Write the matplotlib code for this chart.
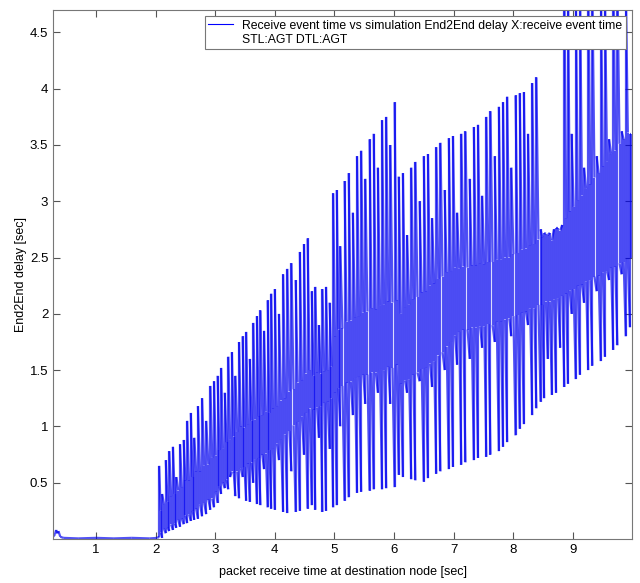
import matplotlib
matplotlib.use("Agg")
import matplotlib.pyplot as plt
from matplotlib.lines import Line2D
from matplotlib.collections import LineCollection

# flat part before traffic starts
idle_x = [0.28, 0.31, 0.33, 0.35, 0.37, 0.40, 0.45, 0.70, 1.00, 1.30, 1.60, 1.90, 2.03]
idle_y = [0.02, 0.04, 0.08, 0.05, 0.07, 0.02, 0.01, 0.005, 0.01, 0.005, 0.01, 0.005, 0.01]

# each spike: x, peak, trough; then a short burst inside the dense band at band_x
spike_x = [2.06, 2.11, 2.17, 2.23, 2.29, 2.35, 2.41, 2.47, 2.53, 2.59, 2.65, 2.71, 2.78, 2.85, 2.92,
           2.98, 3.04, 3.10, 3.16, 3.22, 3.28, 3.34, 3.40, 3.46, 3.52, 3.58, 3.64, 3.70, 3.76, 3.82,
           3.88, 3.94, 4.00, 4.07, 4.14, 4.21, 4.28, 4.35, 4.42, 4.49, 4.55,
           4.62, 4.68, 4.74, 4.80, 4.86, 4.92, 4.98, 5.04, 5.10, 5.17, 5.24, 5.31, 5.38, 5.45, 5.52,
           5.59, 5.66, 5.73, 5.80, 5.87, 5.94, 6.01,
           6.08, 6.15, 6.22, 6.29, 6.36, 6.43, 6.50, 6.57, 6.64, 6.71, 6.78, 6.85, 6.92, 6.99, 7.06,
           7.13, 7.20, 7.27, 7.34, 7.41, 7.48, 7.55, 7.62, 7.69, 7.76, 7.83, 7.90, 7.97, 8.04, 8.11,
           8.18, 8.25, 8.32, 8.39,
           8.46, 8.52, 8.58, 8.65, 8.72, 8.79,
           8.86, 8.92, 8.98, 9.05, 9.12, 9.19, 9.26, 9.33, 9.40, 9.47, 9.54, 9.61, 9.68, 9.75, 9.82,
           9.89, 9.96]
band_x = [2.085, 2.14, 2.20, 2.26, 2.32, 2.38, 2.44, 2.50, 2.56, 2.62, 2.68, 2.745, 2.815, 2.885, 2.95,
          3.01, 3.07, 3.13, 3.19, 3.25, 3.31, 3.37, 3.43, 3.49, 3.55, 3.61, 3.67, 3.73, 3.79, 3.85,
          3.91, 3.97, 4.035, 4.105, 4.175, 4.245, 4.315, 4.385, 4.455, 4.52, 4.585,
          4.65, 4.71, 4.77, 4.83, 4.89, 4.95, 5.01, 5.07, 5.135, 5.205, 5.275, 5.345, 5.415, 5.485, 5.555,
          5.625, 5.695, 5.765, 5.835, 5.905, 5.975, 6.045,
          6.115, 6.185, 6.255, 6.325, 6.395, 6.465, 6.535, 6.605, 6.675, 6.745, 6.815, 6.885, 6.955, 7.025, 7.095,
          7.165, 7.235, 7.305, 7.375, 7.445, 7.515, 7.585, 7.655, 7.725, 7.795, 7.865, 7.935, 8.005, 8.075, 8.145,
          8.215, 8.285, 8.355, 8.425,
          8.49, 8.55, 8.615, 8.685, 8.755, 8.825,
          8.89, 8.95, 9.015, 9.085, 9.155, 9.225, 9.295, 9.365, 9.435, 9.505, 9.575, 9.645, 9.715, 9.785, 9.855,
          9.925, 9.985]
spike_top = [0.65, 0.40, 0.70, 0.78, 0.82, 0.55, 0.84, 0.88, 1.05, 1.12, 0.90, 1.18, 1.25, 1.05, 1.36,
             1.40, 1.45, 1.52, 1.30, 1.62, 1.66, 1.45, 1.75, 1.80, 1.84, 1.60, 1.92, 1.98, 2.03, 1.85,
             2.12, 2.18, 2.22, 2.00, 2.35, 2.40, 2.45, 2.30, 2.55, 2.62, 2.67,
             2.20, 2.24, 1.90, 2.22, 2.24, 2.10, 3.07, 3.10, 2.60, 3.18, 3.25, 2.90, 3.40, 3.45, 3.20,
             3.55, 3.60, 3.30, 3.72, 3.75, 3.50, 3.88,
             3.22, 3.25, 2.70, 3.30, 3.35, 3.00, 3.40, 3.42, 2.85, 3.48, 3.52, 3.10, 3.56, 3.58, 2.90,
             3.60, 3.62, 3.20, 3.66, 3.68, 3.05, 3.75, 3.80, 3.40, 3.84, 3.88, 3.93, 3.30, 3.94, 3.96,
             3.97, 3.60, 4.05, 4.10,
             2.75, 2.72, 2.70, 2.65, 2.76, 2.74,
             4.90, 5.00, 3.60, 4.95, 5.10, 3.30, 5.00, 4.90, 3.40, 5.05, 4.90, 3.55, 5.10, 5.00, 3.62,
             4.95, 3.60]
spike_bot = [0.02, 0.01, 0.05, 0.07, 0.08, 0.10, 0.11, 0.13, 0.14, 0.16, 0.17, 0.18, 0.20, 0.22, 0.26,
             0.28, 0.32, 0.40, 0.45, 0.44, 0.60, 0.38, 0.36, 0.55, 0.34, 0.33, 0.50, 0.31, 0.30, 0.62,
             0.28, 0.27, 0.26, 0.70, 0.24, 0.23, 0.60, 0.24, 0.25, 0.75, 0.27,
             0.30, 0.26, 0.90, 0.24, 0.25, 0.80, 0.28, 0.30, 1.00, 0.34, 0.37, 1.10, 0.41, 0.42, 1.20,
             0.43, 0.44, 1.30, 0.44, 0.45, 1.20, 0.46,
             0.57, 0.55, 1.30, 0.53, 0.52, 1.40, 0.51, 0.54, 1.35, 0.58, 0.60, 1.50, 0.62, 0.64, 1.55,
             0.66, 0.68, 1.60, 0.70, 0.72, 1.70, 0.73, 0.75, 1.75, 0.78, 0.82, 0.86, 1.80, 0.92, 0.98,
             1.02, 1.90, 1.10, 1.16,
             1.22, 1.25, 1.60, 1.28, 1.30, 1.70,
             1.35, 1.38, 2.00, 1.42, 1.46, 2.10, 1.50, 1.54, 2.20, 1.58, 1.62, 2.30, 1.68, 1.72, 2.35,
             1.80, 1.88]
# upper and lower edge of the dark band at each burst
band_hi = [0.25, 0.31, 0.33, 0.38, 0.40, 0.43, 0.46, 0.52, 0.52, 0.55, 0.60, 0.60, 0.65, 0.66, 0.72,
           0.74, 0.79, 0.80, 0.86, 0.88, 0.91, 0.95, 1.00, 0.99, 1.02, 1.05, 1.06, 1.09, 1.10, 1.13,
           1.12, 1.16, 1.18, 1.23, 1.25, 1.31, 1.33, 1.39, 1.41, 1.47, 1.50,
           1.45, 1.48, 1.47, 1.49, 1.50, 1.53, 1.80, 1.86, 1.87, 1.93, 1.94, 1.97, 1.98, 2.01, 2.02,
           2.05, 2.04, 2.07, 2.08, 2.11, 2.10, 2.12,
           2.00, 2.06, 2.08, 2.13, 2.15, 2.19, 2.20, 2.25, 2.27, 2.31, 2.33, 2.37, 2.38, 2.41, 2.40,
           2.42, 2.41, 2.43, 2.43, 2.45, 2.44, 2.46, 2.46, 2.48, 2.48, 2.50, 2.50, 2.53, 2.54, 2.57,
           2.58, 2.61, 2.62, 2.66,
           2.68, 2.71, 2.72, 2.75, 2.76, 2.79,
           2.85, 2.91, 2.95, 3.01, 3.05, 3.11, 3.15, 3.21, 3.25, 3.31, 3.35, 3.42, 3.45, 3.51, 3.55,
           3.61, 3.60]
band_lo = [0.06, 0.09, 0.10, 0.13, 0.14, 0.17, 0.18, 0.21, 0.22, 0.25, 0.27, 0.31, 0.32, 0.35, 0.36,
           0.42, 0.47, 0.50, 0.53, 0.55, 0.59, 0.60, 0.63, 0.64, 0.67, 0.68, 0.71, 0.72, 0.75, 0.76,
           0.79, 0.80, 0.85, 0.88, 0.93, 0.96, 1.01, 1.04, 1.09, 1.12, 1.16,
           1.15, 1.17, 1.18, 1.21, 1.22, 1.25, 1.30, 1.34, 1.36, 1.39, 1.40, 1.43, 1.44, 1.46, 1.46,
           1.48, 1.48, 1.51, 1.50, 1.53, 1.52, 1.55,
           1.38, 1.41, 1.42, 1.46, 1.48, 1.51, 1.52, 1.56, 1.58, 1.63, 1.66, 1.71, 1.75, 1.81, 1.84,
           1.86, 1.86, 1.88, 1.88, 1.89, 1.89, 1.91, 1.90, 1.93, 1.93, 1.95, 1.96, 1.98, 1.99, 2.01,
           2.02, 2.05, 2.05, 2.08,
           2.08, 2.11, 2.11, 2.13, 2.14, 2.16,
           2.18, 2.21, 2.22, 2.25, 2.26, 2.29, 2.30, 2.33, 2.34, 2.37, 2.38, 2.41, 2.42, 2.45, 2.46,
           2.49, 2.50]

# chain everything into one trace
xs = list(idle_x)
ys = list(idle_y)
for x, bx, t, b, hi, lo in zip(spike_x, band_x, spike_top, spike_bot, band_hi, band_lo):
    xs += [x, x, bx, bx]
    ys += [b, t, hi, lo]

pts = list(zip(xs, ys))
segs = [[pts[i], pts[i + 1]] for i in range(len(pts) - 1)]

plt.rcParams['font.family'] = ['Liberation Sans', 'DejaVu Sans']

fig = plt.figure(figsize=(6.4, 5.83), dpi=100)
ax = fig.add_axes([0.083, 0.0755, 0.905, 0.9075])
# separate segments with alpha so overlaps darken like the scanned original
ax.add_collection(LineCollection(segs, colors='#0000f0', linewidths=1.6, alpha=0.68))

ax.set_xlim(0.28, 10.0)
ax.set_ylim(0, 4.7)
ax.set_xticks([1, 2, 3, 4, 5, 6, 7, 8, 9])
ax.set_yticks([0.5, 1, 1.5, 2, 2.5, 3, 3.5, 4, 4.5])
ax.set_yticklabels(['0.5', '1', '1.5', '2', '2.5', '3', '3.5', '4', '4.5'])
ax.tick_params(direction='in', top=True, right=True, length=5, labelsize=9.5, color='#555555')
for s in ax.spines.values():
    s.set_color('#777777')
ax.set_xlabel('packet receive time at destination node [sec]', fontsize=9, labelpad=7)
ax.set_ylabel('End2End delay [sec]', fontsize=9, labelpad=2)

handles = [Line2D([], [], color='#0000ff', lw=0.8), Line2D([], [], color='none')]
labels = ['Receive event time vs simulation End2End delay X:receive event time', 'STL:AGT DTL:AGT']
leg = ax.legend(handles, labels, loc='upper right', fontsize=8.8, fancybox=False, framealpha=1,
                edgecolor='#777777', handlelength=2.0, handletextpad=0.8, borderpad=0.3,
                labelspacing=0.15, borderaxespad=0.5)
leg.get_frame().set_linewidth(0.8)

fig.savefig('out.png', dpi=100)
